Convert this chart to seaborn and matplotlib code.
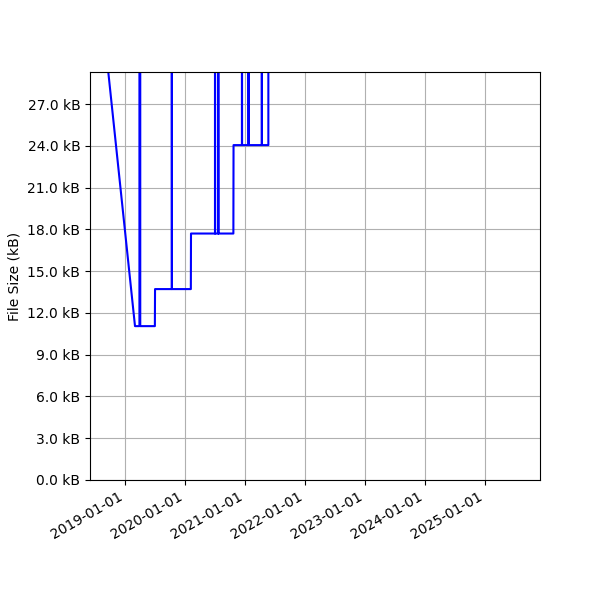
import pandas as pd
import matplotlib
matplotlib.use("Agg")
import matplotlib.pyplot as plt
import matplotlib.dates as mdates
from matplotlib.ticker import MultipleLocator, FuncFormatter
import seaborn as sns

# File size history (kB) - spikes go above the visible range
dates = ["2018-06-25", "2019-03-02",
         "2019-03-29", "2019-03-29", "2019-04-03", "2019-04-03",
         "2019-07-01", "2019-07-02",
         "2019-10-12", "2019-10-12", "2019-10-13",
         "2020-02-05", "2020-02-06",
         "2020-07-01", "2020-07-01", "2020-07-02",
         "2020-07-21", "2020-07-21", "2020-07-22",
         "2020-10-21", "2020-10-22",
         "2020-12-12", "2020-12-12", "2020-12-13",
         "2021-01-21", "2021-01-21", "2021-01-22",
         "2021-04-12", "2021-04-12", "2021-04-13",
         "2021-05-22", "2021-05-22"]
sizes_kb = [39.1, 11.05,
            11.05, 45.0, 45.0, 11.05,
            11.05, 13.71,
            13.71, 45.0, 13.71,
            13.71, 17.7,
            17.7, 45.0, 17.7,
            17.7, 45.0, 17.7,
            17.7, 24.05,
            24.05, 45.0, 24.05,
            24.05, 45.0, 24.05,
            24.05, 45.0, 24.05,
            24.05, 45.0]

df = pd.DataFrame({"date": pd.to_datetime(dates), "size": sizes_kb})

fig, ax = plt.subplots(figsize=(6, 6), dpi=100)
sns.lineplot(data=df, x="date", y="size", estimator=None, sort=False,
             color="blue", linewidth=1.5, ax=ax)

ax.set_xlim(pd.Timestamp("2018-06-01"), pd.Timestamp("2025-12-01"))
ax.set_ylim(0, 29.3)
ax.yaxis.set_major_locator(MultipleLocator(3))
ax.yaxis.set_major_formatter(FuncFormatter(lambda v, p: f"{v:.1f} kB"))
ax.xaxis.set_major_locator(mdates.YearLocator())
ax.xaxis.set_major_formatter(mdates.DateFormatter("%Y-%m-%d"))
ax.set_xlabel("")
ax.set_ylabel("File Size (kB)")
ax.grid(True)
fig.autofmt_xdate()
plt.subplots_adjust(left=0.15, right=0.9, top=0.88, bottom=0.2)
plt.savefig("out.png")
